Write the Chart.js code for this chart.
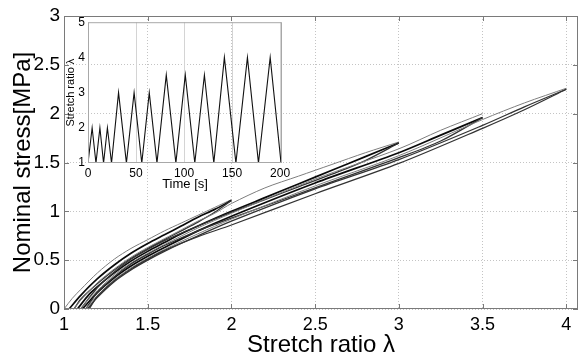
<!DOCTYPE html>
<html>
<head>
<meta charset="utf-8">
<script src="https://cdn.jsdelivr.net/npm/chart.js@4.4.1/dist/chart.umd.min.js"></script>
<style>
html, body { margin: 0; padding: 0; background: #fff; }
#wrap { position: relative; width: 579px; height: 358px; overflow: hidden; }
#main { position: absolute; left: 0; top: 0; }
#inset { position: absolute; left: 56px; top: 12px; }
</style>
</head>
<body>
<div id="wrap">
  <canvas id="main" width="579" height="358"></canvas>
  <canvas id="inset" width="244" height="190"></canvas>
</div>
<script>
// cycles to stretch 2
const lamLoad2 = [1.0, 1.05, 1.1, 1.2, 1.3, 1.4, 1.5, 1.6, 1.7, 1.8, 1.9, 2.0];
const sigLoad2 = [0, 0.11, 0.20, 0.37, 0.51, 0.62, 0.71, 0.80, 0.88, 0.96, 1.04, 1.12];
const lamReload2 = [1.03, 1.1, 1.2, 1.3, 1.4, 1.5, 1.6, 1.7, 1.8, 1.9, 2.0];
const sigReload2 = [0, 0.14, 0.31, 0.45, 0.57, 0.67, 0.76, 0.85, 0.94, 1.02, 1.11];
const lamUnload2 = [2.0, 1.9, 1.8, 1.7, 1.6, 1.5, 1.4, 1.3, 1.2, 1.1, 1.06];
const sigUnload2 = [1.11, 0.99, 0.89, 0.80, 0.71, 0.62, 0.52, 0.40, 0.26, 0.10, 0];

// cycles to stretch 3
const lamLoad3 = [1.06, 1.1, 1.2, 1.3, 1.4, 1.5, 1.6, 1.7, 1.8, 1.9, 2.0, 2.2, 2.4, 2.6, 2.8, 3.0];
const sigLoad3 = [0, 0.09, 0.27, 0.41, 0.53, 0.63, 0.72, 0.81, 0.90, 0.98, 1.08, 1.24, 1.36, 1.48, 1.60, 1.71];
const lamReload3 = [1.08, 1.15, 1.2, 1.3, 1.4, 1.5, 1.6, 1.7, 1.8, 2.0, 2.2, 2.4, 2.6, 2.8, 3.0];
const sigReload3 = [0, 0.15, 0.23, 0.37, 0.49, 0.59, 0.68, 0.77, 0.85, 1.00, 1.14, 1.28, 1.42, 1.56, 1.70];
const lamUnload3 = [3.0, 2.8, 2.6, 2.4, 2.2, 2.0, 1.8, 1.6, 1.5, 1.4, 1.3, 1.2, 1.1];
const sigUnload3 = [1.70, 1.52, 1.38, 1.25, 1.12, 0.99, 0.85, 0.70, 0.61, 0.51, 0.38, 0.22, 0];

// cycles to stretch 3.5
const lamLoad35 = [1.1, 1.15, 1.2, 1.3, 1.4, 1.5, 1.6, 1.8, 2.0, 2.5, 3.0, 3.25, 3.5];
const sigLoad35 = [0, 0.11, 0.19, 0.35, 0.47, 0.57, 0.66, 0.83, 0.98, 1.33, 1.64, 1.83, 2.0];
const lamReload35 = [1.11, 1.2, 1.3, 1.4, 1.5, 1.6, 1.8, 2.0, 2.5, 3.0, 3.25, 3.5];
const sigReload35 = [0, 0.17, 0.32, 0.44, 0.54, 0.63, 0.80, 0.95, 1.29, 1.60, 1.78, 1.96];
const lamUnload35 = [3.5, 3.25, 3.0, 2.5, 2.0, 1.8, 1.6, 1.5, 1.4, 1.3, 1.2, 1.13];
const sigUnload35 = [1.96, 1.72, 1.55, 1.24, 0.93, 0.80, 0.65, 0.56, 0.46, 0.33, 0.17, 0];

// cycles to stretch 4
const lamLoad4 = [1.13, 1.2, 1.3, 1.4, 1.5, 1.6, 1.8, 2.0, 2.5, 3.0, 3.5, 3.75, 4.0];
const sigLoad4 = [0, 0.14, 0.30, 0.42, 0.52, 0.61, 0.77, 0.92, 1.26, 1.57, 1.94, 2.11, 2.26];
const lamReload4 = [1.14, 1.2, 1.3, 1.4, 1.5, 1.6, 1.8, 2.0, 2.5, 3.0, 3.5, 3.75, 4.0];
const sigReload4 = [0, 0.12, 0.28, 0.40, 0.50, 0.59, 0.75, 0.90, 1.23, 1.53, 1.88, 2.07, 2.25];
const lamUnload4 = [4.0, 3.75, 3.5, 3.0, 2.5, 2.0, 1.8, 1.6, 1.5, 1.4, 1.3, 1.2, 1.15];
const sigUnload4 = [2.25, 2.04, 1.85, 1.49, 1.18, 0.86, 0.74, 0.60, 0.51, 0.41, 0.29, 0.13, 0];

// inset: loading history
const timeS = [0, 4.3, 8.3, 12.4, 16.2, 20.2, 24.5, 31.8, 40, 48, 56, 63.8, 71.8,
  81.5, 91.5, 101.3, 111.2, 121.2, 131, 142, 154, 166, 177.5, 189.7, 201];
const stretchHist = [1, 2, 1, 2, 1, 2, 1, 3, 1, 3, 1, 3, 1,
  3.5, 1, 3.5, 1, 3.5, 1, 4, 1, 4, 1, 4, 1];

const mainXTicks = [1, 1.5, 2, 2.5, 3, 3.5, 4];
const mainYTicks = [0, 0.5, 1, 1.5, 2, 2.5, 3];
const insetXTicks = [0, 50, 100, 150, 200];
const insetYTicks = [1, 2, 3, 4, 5];

const FONT = "'Liberation Sans', Arial, sans-serif";

const toPts = (xs, ys) => xs.map((x, i) => ({ x: x, y: ys[i] }));
const plain = v => String(v);

// thin = first loading, dark = reloading, mid = unloading
const curve = (xs, ys, kind) => ({
  data: toPts(xs, ys),
  borderColor: kind === 'thin' ? '#7e7e7e' : kind === 'dark' ? '#0a0a0a' : '#333',
  borderWidth: kind === 'thin' ? 1.0 : kind === 'dark' ? 1.7 : 1.3,
  pointRadius: 0,
  tension: 0.3,
  fill: false
});

const frame = {
  id: 'frame',
  afterDraw(chart, args, opts) {
    const { ctx, chartArea: a, scales } = chart;
    ctx.save();
    ctx.strokeStyle = opts.color;
    ctx.lineWidth = 1;
    ctx.strokeRect(a.left + 0.5, a.top + 0.5, a.right - a.left - 1, a.bottom - a.top - 1);
    if (opts.tick) {
      ctx.beginPath();
      scales.x.ticks.forEach(t => {
        const px = Math.round(scales.x.getPixelForValue(t.value)) + 0.5;
        ctx.moveTo(px, a.bottom); ctx.lineTo(px, a.bottom - opts.tick);
        ctx.moveTo(px, a.top); ctx.lineTo(px, a.top + opts.tick);
      });
      scales.y.ticks.forEach(t => {
        const py = Math.round(scales.y.getPixelForValue(t.value)) + 0.5;
        ctx.moveTo(a.left, py); ctx.lineTo(a.left + opts.tick, py);
        ctx.moveTo(a.right, py); ctx.lineTo(a.right - opts.tick, py);
      });
      ctx.stroke();
    }
    ctx.restore();
  }
};

new Chart(document.getElementById('main'), {
  type: 'line',
  data: {
    datasets: [
      curve(lamUnload4, sigUnload4, 'mid'),
      curve(lamReload4, sigReload4, 'mid'),
      curve(lamLoad4, sigLoad4, 'thin'),
      curve(lamUnload35, sigUnload35, 'mid'),
      curve(lamReload35, sigReload35, 'dark'),
      curve(lamLoad35, sigLoad35, 'thin'),
      curve(lamUnload3, sigUnload3, 'mid'),
      curve(lamReload3, sigReload3, 'dark'),
      curve(lamLoad3, sigLoad3, 'thin'),
      curve(lamUnload2, sigUnload2, 'mid'),
      curve(lamReload2, sigReload2, 'dark'),
      curve(lamLoad2, sigLoad2, 'thin')
    ]
  },
  plugins: [frame],
  options: {
    responsive: false,
    animation: false,
    layout: { padding: { top: 16, right: 1, left: 0, bottom: 0 } },
    plugins: {
      legend: { display: false },
      tooltip: { enabled: false },
      frame: { color: '#7a7a7a', tick: 5 }
    },
    scales: {
      x: {
        type: 'linear',
        min: 1, max: 4.07,
        afterBuildTicks: s => { s.ticks = mainXTicks.map(v => ({ value: v })); },
        afterFit: s => { s.height = 49; },
        ticks: { color: '#000', font: { family: FONT, size: 18 }, padding: 5, maxRotation: 0, callback: plain },
        grid: { color: '#c4c4c4', drawTicks: false },
        border: { display: false, dash: [1, 2] },
        title: { display: true, text: 'Stretch ratio λ', color: '#000',
          font: { family: FONT, size: 24, lineHeight: 1 }, padding: { top: 0, bottom: 1 } }
      },
      y: {
        type: 'linear',
        min: 0, max: 3,
        afterBuildTicks: s => { s.ticks = mainYTicks.map(v => ({ value: v })); },
        afterFit: s => { s.width = 64; },
        ticks: { color: '#000', font: { family: FONT, size: 19 }, padding: 4, callback: plain },
        grid: { color: '#c4c4c4', drawTicks: false },
        border: { display: false, dash: [1, 2] },
        title: { display: true, text: 'Nominal stress[MPa]', color: '#000',
          font: { family: FONT, size: 24, lineHeight: 1 }, padding: { top: 11, bottom: 0 } }
      }
    }
  }
});

new Chart(document.getElementById('inset'), {
  type: 'line',
  data: {
    datasets: [{
      data: toPts(timeS, stretchHist),
      borderColor: '#111',
      borderWidth: 1.1,
      pointRadius: 0,
      tension: 0,
      fill: false
    }]
  },
  plugins: [frame],
  options: {
    responsive: false,
    animation: false,
    layout: { padding: { top: 10, right: 18, left: 0, bottom: 0 } },
    plugins: {
      legend: { display: false },
      tooltip: { enabled: false },
      frame: { color: '#a8a8a8', tick: 0 }
    },
    scales: {
      x: {
        type: 'linear',
        min: 0, max: 202,
        afterBuildTicks: s => { s.ticks = insetXTicks.map(v => ({ value: v })); },
        afterFit: s => { s.height = 39; },
        ticks: { color: '#000', font: { family: FONT, size: 12 }, padding: 3, maxRotation: 0, callback: plain },
        grid: { color: '#d4d4d4', drawTicks: false },
        border: { display: false },
        title: { display: true, text: 'Time [s]', color: '#000',
          font: { family: FONT, size: 13, lineHeight: 1 }, padding: { top: 0, bottom: 11.5 } }
      },
      y: {
        type: 'linear',
        min: 1, max: 5,
        afterBuildTicks: s => { s.ticks = insetYTicks.map(v => ({ value: v })); },
        afterFit: s => { s.width = 32; },
        ticks: { color: '#000', font: { family: FONT, size: 12 }, padding: 3, callback: plain },
        grid: { display: false, drawTicks: false },
        border: { display: false },
        title: { display: true, text: 'Stretch ratio λ', color: '#000',
          font: { family: FONT, size: 11, lineHeight: 1 }, padding: { top: 9, bottom: 0 } }
      }
    }
  }
});
</script>
</body>
</html>
